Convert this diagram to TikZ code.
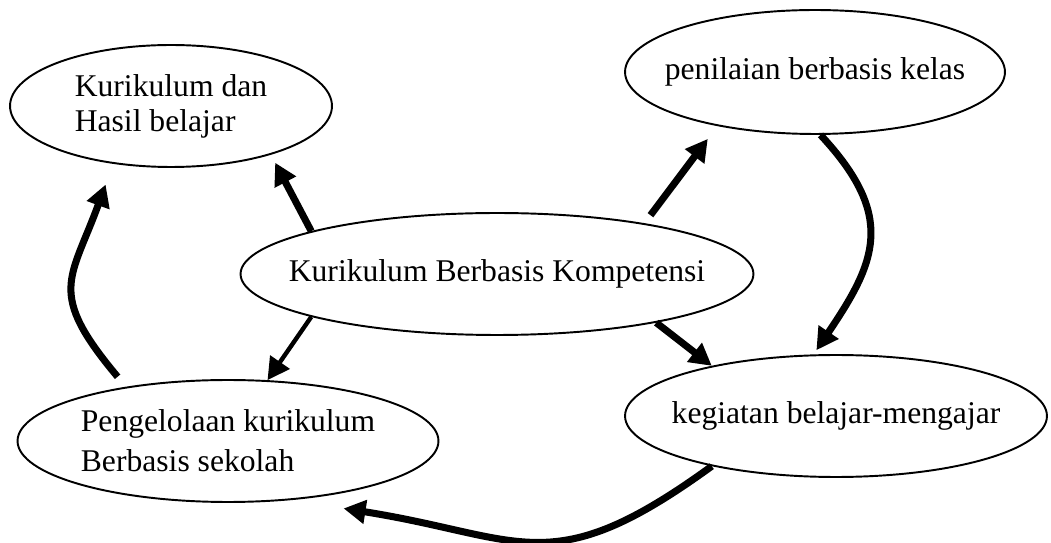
\documentclass[tikz,border=0pt]{standalone}
\usepackage{fontspec}
\setmainfont{Liberation Serif}
\usetikzlibrary{arrows.meta,shapes.geometric}

\begin{document}
\begin{tikzpicture}[
    x=0.02cm, y=0.02cm,
    every node/.style={font=\fontsize{18}{20}\selectfont,align=left},
    bubble/.style={draw,ellipse,line width=1.1pt,inner xsep=-1cm,inner ysep=0pt,minimum height=2.44cm},
    arrow/.style={-{Triangle[length=0.44cm,width=0.46cm]},line width=4pt},
    thinarrow/.style={arrow,line width=2.5pt}
]
\useasboundingbox (0,0) rectangle (1051,-543);
\node[bubble,minimum width=6.44cm] (hasil) at (171,-106) {Kurikulum dan\\Hasil belajar};
\node[bubble,minimum width=7.6cm,minimum height=2.48cm] (nilai) at (815,-72) {penilaian berbasis kelas};
\node[bubble,minimum width=10.26cm] (kbk) at (497,-274) {Kurikulum Berbasis Kompetensi};
\node[bubble,minimum width=8.42cm] (kelola) at (228,-441) {Pengelolaan kurikulum\\[0.1cm]Berbasis sekolah};
\node[bubble,minimum width=8.44cm] (kbm) at (836,-416) {kegiatan belajar-mengajar};
\draw[arrow,shorten >=0.18cm] (kbk.167) -- (hasil.334);
\draw[arrow,shorten <=0.2cm,shorten >=0.32cm] (kbk.19) -- (nilai.209);
\draw[arrow,shorten >=0.1cm] (nilai.275) to[out=-47,in=56,looseness=1.3] (kbm.110);
\draw[arrow] (kbk.343) -- (kbm.158);
\draw[thinarrow] (kbk.193) -- (kelola.57);
\draw[arrow,shorten <=0.26cm,shorten >=0.44cm] (kelola.152) to[out=130,in=250,looseness=1.42] (hasil.225);
\draw[arrow,shorten >=0.34cm] (kbm.202) to[out=216,in=-9,looseness=1.32] ([yshift=-0.2cm]kelola.331);
\end{tikzpicture}
\end{document}
